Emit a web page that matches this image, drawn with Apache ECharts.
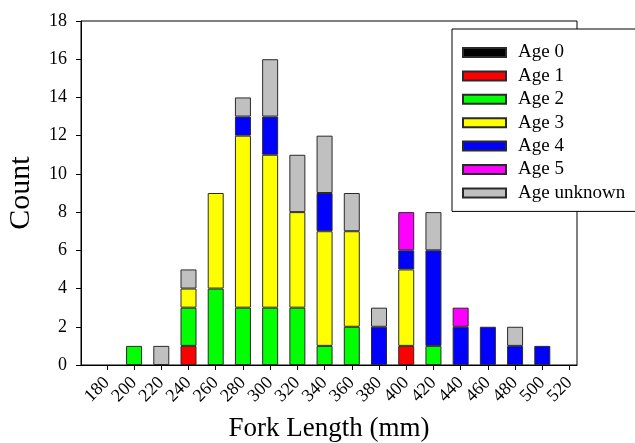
<!DOCTYPE html>
<html>
<head>
<meta charset="utf-8">
<script src="https://cdn.jsdelivr.net/npm/echarts@6/dist/echarts.min.js"></script>
<style>
html, body { margin: 0; padding: 0; background: #fff; }
#chart { width: 635px; height: 443px; }
</style>
</head>
<body>
<div id="chart"></div>
<script>
// fork length ticks (mm); bars sit on every tick
var xTicks = [180, 200, 220, 240, 260, 280, 300, 320, 340, 360, 380, 400, 420, 440, 460, 480, 500, 520];
var yTicks = [0, 2, 4, 6, 8, 10, 12, 14, 16, 18];

// counts per age class, one entry per tick (180 ... 520)
var age0 = [null, null, null, null, null, null, null, null, null, null, null, null, null, null, null, null, null, null];
var age1 = [null, null, null, 1, null, null, null, null, null, null, null, 1, null, null, null, null, null, null];
var age2 = [null, 1, null, 2, 4, 3, 3, 3, 1, 2, null, null, 1, null, null, null, null, null];
var age3 = [null, null, null, 1, 5, 9, 8, 5, 6, 5, null, 4, null, null, null, null, null, null];
var age4 = [null, null, null, null, null, 1, 2, null, 2, null, 2, 1, 5, 2, 2, 1, 1, null];
var age5 = [null, null, null, null, null, null, null, null, null, null, null, 2, null, 1, null, null, null, null];
var ageUnknown = [null, null, 1, 1, null, 1, 3, 3, 3, 2, 1, null, 2, null, null, 1, null, null];

var seriesNames = ['Age 0', 'Age 1', 'Age 2', 'Age 3', 'Age 4', 'Age 5', 'Age unknown'];
var seriesData = [age0, age1, age2, age3, age4, age5, ageUnknown];
var colors = ['#000000', '#ff0000', '#00ff00', '#ffff00', '#0000ff', '#ff00ff', '#c0c0c0'];

var font = 'Liberation Serif';

// plot frame and visible x range
var W = 635, gLeft = 81, gRight = 58, gTop = 21, gBottom = 78;
var xMin = 161, xMax = 525.5;

// second (hidden) grid lines its category axis up with the ticks of the visible axis
var pxPerUnit = (W - gLeft - gRight) / (xMax - xMin);
var barLeft = gLeft + (xTicks[0] - xMin) * pxPerUnit;
var barRight = gRight + (xMax - xTicks[xTicks.length - 1]) * pxPerUnit;

var myChart = echarts.init(document.getElementById('chart'));

var series = seriesNames.map(function (name, k) {
    return {
        name: name,
        type: 'bar',
        stack: 'total',
        xAxisIndex: 1,
        yAxisIndex: 1,
        barWidth: 16,
        itemStyle: {
            color: colors[k],
            borderColor: '#2a2a2a',
            borderWidth: 1
        },
        data: seriesData[k]
    };
});

var option = {
    animation: false,
    backgroundColor: '#fff',
    grid: [
        {
            left: gLeft,
            right: gRight,
            top: gTop,
            bottom: gBottom,
            outerBoundsMode: 'none',
            containLabel: false,
            show: true,
            borderColor: '#000',
            borderWidth: 1
        },
        {
            left: barLeft,
            right: barRight,
            top: gTop,
            bottom: gBottom,
            outerBoundsMode: 'none',
            containLabel: false
        }
    ],
    legend: {
        orient: 'vertical',
        left: 452,
        top: 29,
        padding: [14, 20, 9, 10],
        itemGap: 4.4,
        itemWidth: 43,
        itemHeight: 9,
        icon: 'rect',
        backgroundColor: '#fff',
        borderColor: '#000',
        borderWidth: 1,
        textStyle: {
            fontFamily: font,
            fontSize: 19,
            color: '#000',
            padding: [0, 0, 0, 7]
        },
        data: seriesNames
    },
    xAxis: [
        {
            type: 'value',
            gridIndex: 0,
            min: xMin,
            max: xMax,
            name: 'Fork Length (mm)',
            nameLocation: 'middle',
            nameGap: 50,
            nameTextStyle: { fontFamily: font, fontSize: 27, color: '#000' },
            axisLine: { show: true, lineStyle: { color: '#000' } },
            axisTick: {
                show: true,
                length: 5,
                customValues: xTicks,
                lineStyle: { color: '#000' }
            },
            axisLabel: {
                customValues: xTicks,
                rotate: 45,
                margin: 15,
                fontFamily: font,
                fontSize: 18,
                color: '#000'
            },
            splitLine: { show: false }
        },
        {
            type: 'category',
            gridIndex: 1,
            boundaryGap: false,
            data: xTicks,
            show: false
        }
    ],
    yAxis: [
        {
            type: 'value',
            gridIndex: 0,
            min: 0,
            max: 18,
            interval: 2,
            name: 'Count',
            nameLocation: 'middle',
            nameGap: 45,
            nameTextStyle: { fontFamily: font, fontSize: 30, color: '#000' },
            axisLine: { show: true, lineStyle: { color: '#000' } },
            axisTick: { show: true, length: 5, lineStyle: { color: '#000' } },
            axisLabel: {
                margin: 14,
                fontFamily: font,
                fontSize: 18,
                color: '#000'
            },
            splitLine: { show: false }
        },
        {
            type: 'value',
            gridIndex: 1,
            min: yTicks[0],
            max: yTicks[yTicks.length - 1],
            show: false
        }
    ],
    series: series
};

myChart.setOption(option);
</script>
</body>
</html>
